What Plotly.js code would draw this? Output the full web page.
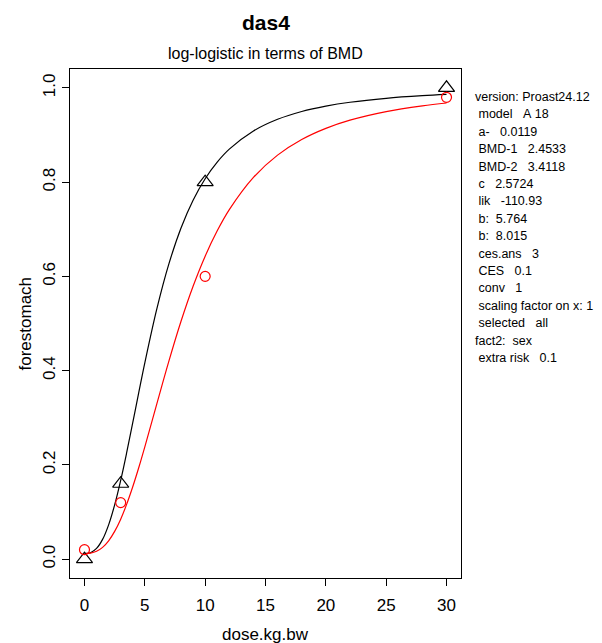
<!DOCTYPE html>
<html>
<head>
<meta charset="utf-8">
<script src="https://cdn.plot.ly/plotly-3.0.1.min.js"></script>
<style>html,body{margin:0;padding:0;background:#fff;}</style>
</head>
<body>
<div id="chart" style="width:602px;height:643px;"></div>
<script>
// observed data
const doseObs = [0, 3, 10, 30];
const maleObs = [0.0, 0.16, 0.80, 1.0];      // black triangles
const femaleObs = [0.02, 0.12, 0.60, 0.98];  // red circles

// fitted curves
const doseCurve = [0, 0.5, 1, 1.5, 2, 2.5, 3, 3.5, 4, 4.5, 5, 6, 7, 8, 9, 10, 11, 12, 14, 16, 18, 20, 22, 25, 28, 30];
const maleCurve = [0.0119, 0.0137, 0.0227, 0.0419, 0.0728, 0.1151, 0.1671, 0.2263, 0.2895, 0.3538, 0.4166, 0.5315, 0.6269, 0.7027, 0.7617, 0.8072, 0.8424, 0.8699, 0.9085, 0.9333, 0.9499, 0.9613, 0.9695, 0.9778, 0.9833, 0.9860];
const femaleCurve = [0.0119, 0.0127, 0.0166, 0.0250, 0.0389, 0.0589, 0.0849, 0.1167, 0.1535, 0.1944, 0.2382, 0.3301, 0.4208, 0.5048, 0.5791, 0.6429, 0.6967, 0.7416, 0.8100, 0.8572, 0.8904, 0.9141, 0.9315, 0.9497, 0.9619, 0.9679];

const xTicks = [0, 5, 10, 15, 20, 25, 30];
const yTicks = [0, 0.2, 0.4, 0.6, 0.8, 1.0];
const yTickText = ["0.0", "0.2", "0.4", "0.6", "0.8", "1.0"];

const infoLines = [
  "version: Proast24.12",
  " model   A 18",
  " a-   0.0119",
  " BMD-1   2.4533",
  " BMD-2   3.4118",
  " c   2.5724",
  " lik   -110.93",
  " b:  5.764",
  " b:  8.015",
  " ces.ans   3",
  " CES   0.1",
  " conv   1",
  " scaling factor on x: 1",
  " selected   all",
  "fact2:  sex",
  " extra risk   0.1"
];

const FONT = "Liberation Sans, Arial, Helvetica, sans-serif";

const traces = [
  {x: doseCurve, y: maleCurve, mode: 'lines', line: {color: 'black', width: 1.2, shape: 'spline'}, hoverinfo: 'skip'},
  {x: doseCurve, y: femaleCurve, mode: 'lines', line: {color: 'red', width: 1.2, shape: 'spline'}, hoverinfo: 'skip'},
  {x: doseObs, y: maleObs, mode: 'markers', marker: {symbol: 'triangle-up-open', size: 14, color: 'black', line: {width: 1.2, color: 'black'}}},
  {x: doseObs, y: femaleObs, mode: 'markers', marker: {symbol: 'circle-open', size: 10, color: 'red', line: {width: 1.2, color: 'red'}}}
];

const annotations = [
  {text: '<b>das4</b>', xref: 'paper', yref: 'paper', x: 0.5, y: 1, xanchor: 'center', yanchor: 'middle', yshift: 47, showarrow: false, font: {family: FONT, size: 21, color: 'black'}},
  {text: 'log-logistic in terms of BMD', xref: 'paper', yref: 'paper', x: 0.5, y: 1, xanchor: 'center', yanchor: 'middle', yshift: 16, showarrow: false, font: {family: FONT, size: 16, color: 'black'}},
  {text: 'dose.kg.bw', xref: 'paper', yref: 'paper', x: 0.5, y: 0, xanchor: 'center', yanchor: 'middle', yshift: -56, showarrow: false, font: {family: FONT, size: 17, color: 'black'}},
  {text: 'forestomach', xref: 'paper', yref: 'paper', x: 0, y: 0.5, xanchor: 'center', yanchor: 'middle', xshift: -45, textangle: -90, showarrow: false, font: {family: FONT, size: 17, color: 'black'}}
];
infoLines.forEach((t, i) => {
  annotations.push({
    text: t.replace(/ /g, '\u00a0'), xref: 'paper', yref: 'paper',
    x: (473 - 70) / 391, y: 1, xanchor: 'left', yanchor: 'middle',
    yshift: -(97 + 17.4 * i - 69), showarrow: false,
    font: {family: FONT, size: 12.5, color: 'black'}
  });
});

const layout = {
  width: 602, height: 643, autosize: false,
  margin: {l: 70, r: 141, t: 69, b: 65, pad: 0},
  paper_bgcolor: 'white', plot_bgcolor: 'white',
  showlegend: false,
  font: {family: FONT, size: 17, color: 'black'},
  xaxis: {range: [-1.2, 31.2], tickvals: xTicks, ticks: 'outside', ticklen: 7, tickwidth: 1, tickcolor: 'black',
          ticklabelstandoff: 5,
          showline: true, mirror: true, linecolor: 'black', linewidth: 1, showgrid: false, zeroline: false,
          tickfont: {family: FONT, size: 17, color: 'black'}},
  yaxis: {range: [-0.04, 1.04], tickvals: yTicks, ticktext: yTickText, tickangle: -90, ticks: 'outside', ticklen: 7, tickwidth: 1, tickcolor: 'black',
          showline: true, mirror: true, linecolor: 'black', linewidth: 1, showgrid: false, zeroline: false,
          tickfont: {family: FONT, size: 17, color: 'black'}},
  annotations: annotations
};

Plotly.newPlot('chart', traces, layout, {staticPlot: true, displayModeBar: false});
</script>
</body>
</html>
